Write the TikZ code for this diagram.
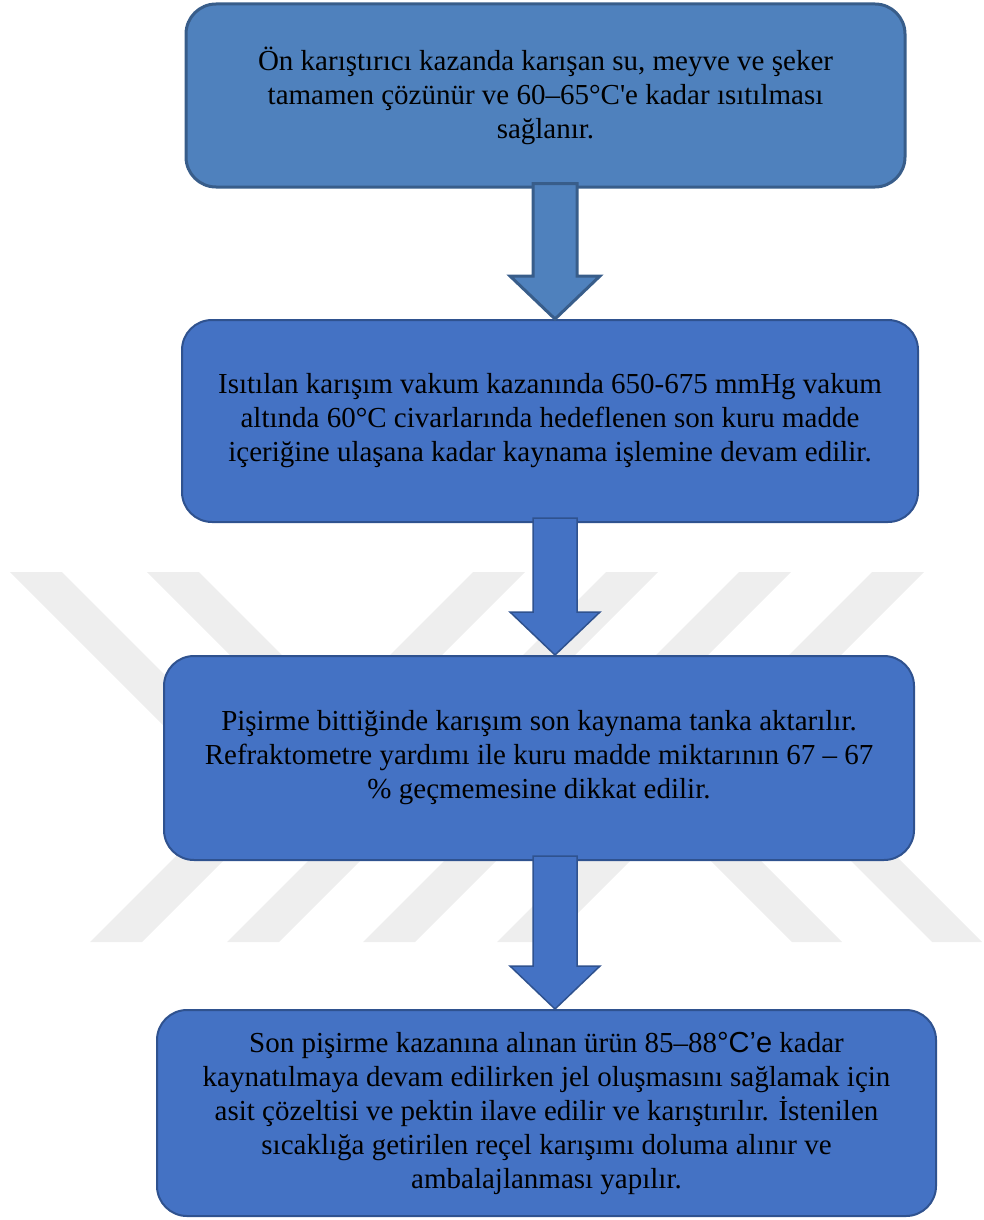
\documentclass[tikz,border=0pt]{standalone}
\usepackage{fontspec}
\setmainfont{Liberation Serif}
\newfontfamily\arialfont{Liberation Sans}
\usetikzlibrary{calc}
\definecolor{topblue}{HTML}{4F81BD}
\definecolor{topedge}{HTML}{385D8A}
\definecolor{boxblue}{HTML}{4472C4}
\definecolor{boxedge}{HTML}{2F528F}
\definecolor{markgray}{HTML}{EEEEEE}
% block arrow from the bottom of one box to the top of the next
\def\blockarrow[#1](#2)(#3){\draw[#1] let \p1=(#2.south), \p2=(#3.north) in
  (533pt,\y1+5pt) -- (577pt,\y1+5pt) -- (577pt,\y2+43pt) -- (600pt,\y2+43pt)
  -- (555pt,\y2) -- (510pt,\y2+43pt) -- (533pt,\y2+43pt) -- cycle;}

\begin{document}
\begin{tikzpicture}[x=1pt, y=1pt,
    stepbox/.style={draw=boxedge, fill=boxblue, line width=2pt, rounded corners=30pt,
      inner sep=0pt, align=center, font=\fontsize{29}{34}\selectfont},
    firstbox/.style={stepbox, draw=topedge, fill=topblue, line width=3pt},
    firstarrow/.style={draw=topedge, fill=topblue, line width=3pt, line join=miter},
    nextarrow/.style={draw=boxedge, fill=boxblue, line width=1.5pt, line join=miter}]
		%%%%% START %%%%%
		\useasboundingbox (0,0) rectangle (984,-1220);

		% watermark
		\foreach \x in {10,147}
			\fill[markgray] (\x,-572) -- ++(52,0) -- ++(185,-185) -- ++(-52,0) -- cycle;
		\foreach \x in {473,606,739,872}
			\fill[markgray] (\x,-572) -- ++(52,0) -- ++(-185,-185) -- ++(-52,0) -- cycle;
		\foreach \x in {90,227,363,497}
			\fill[markgray] (\x,-942) -- ++(52,0) -- ++(185,185) -- ++(-52,0) -- cycle;
		\foreach \x in {792,932}
			\fill[markgray] (\x,-942) -- ++(50,0) -- ++(-185,185) -- ++(-50,0) -- cycle;

		% boxes
		\node[firstbox, minimum width=719pt, minimum height=183pt] (mixing) at (545.5,-95.5)
			{Ön karıştırıcı kazanda karışan su, meyve ve şeker\\
			 tamamen çözünür ve 60–65°C\textquotesingle e kadar ısıtılması\\
			 sağlanır.};
		\node[stepbox, minimum width=736pt, minimum height=202pt] (vacuum) at (550,-421)
			{Isıtılan karışım vakum kazanında 650-675 mmHg vakum\\
			 altında 60°C civarlarında hedeflenen son kuru madde\\
			 içeriğine ulaşana kadar kaynama işlemine devam edilir.};
		\node[stepbox, minimum width=750pt, minimum height=204pt] (transfer) at (539,-758)
			{Pişirme bittiğinde karışım son kaynama tanka aktarılır.\\
			 Refraktometre yardımı ile kuru madde miktarının 67 – 67\\
			 \% geçmemesine dikkat edilir.};
		\node[stepbox, minimum width=779pt, minimum height=206pt] (filling) at (546.5,-1113)
			{Son pişirme kazanına alınan ürün 85–88{\arialfont °C’e} kadar\\
			 kaynatılmaya devam edilirken jel oluşmasını sağlamak için\\
			 asit çözeltisi ve pektin ilave edilir ve karıştırılır. İstenilen\\
			 sıcaklığa getirilen reçel karışımı doluma alınır ve\\
			 ambalajlanması yapılır.};

		% arrows
		\blockarrow[firstarrow](mixing)(vacuum)
		\blockarrow[nextarrow](vacuum)(transfer)
		\blockarrow[nextarrow](transfer)(filling)
		%%%%% END %%%%%
\end{tikzpicture}
\end{document}
